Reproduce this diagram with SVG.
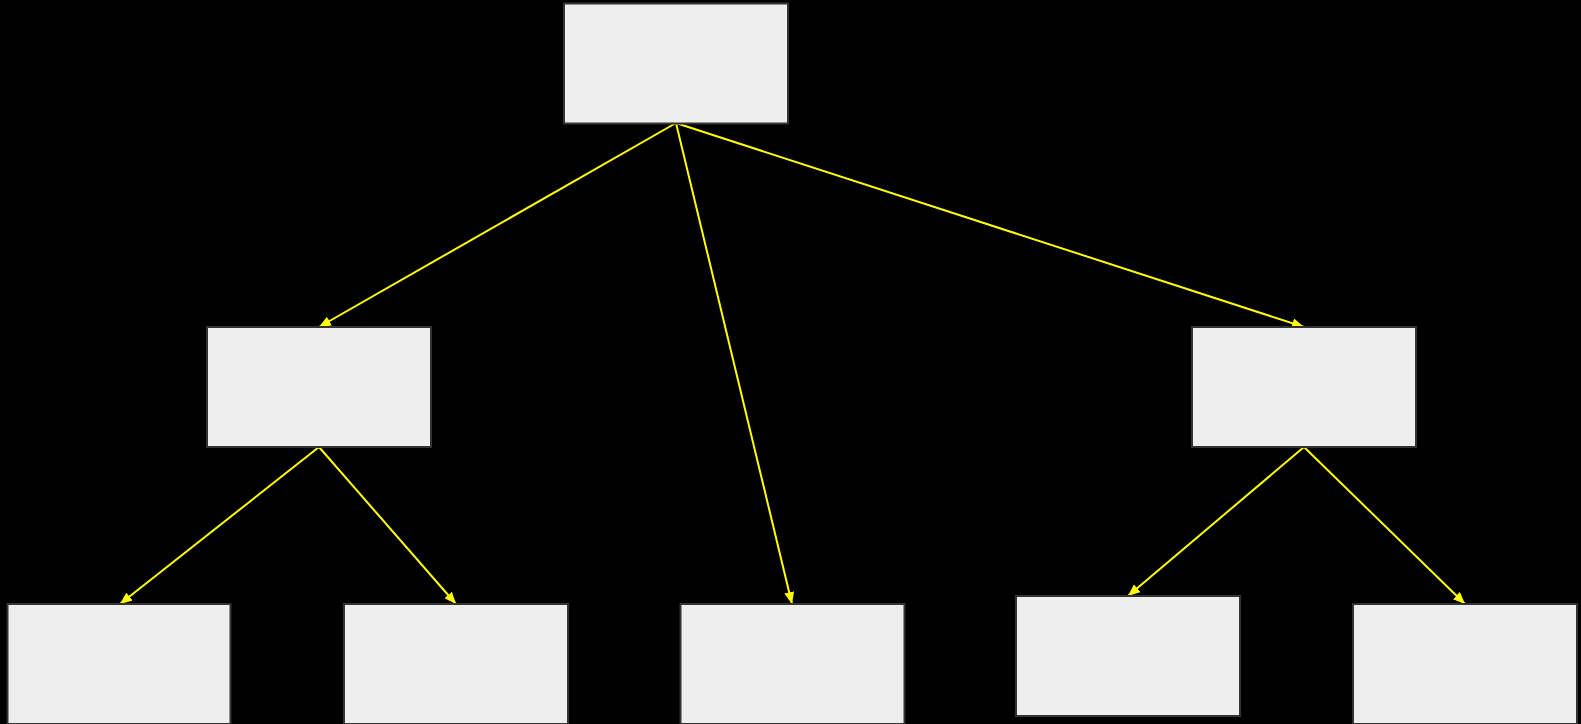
<svg xmlns="http://www.w3.org/2000/svg" width="1581" height="724" viewBox="0 0 1581 724">
<style>
.node rect{fill:#eeeeee;stroke:#333333;stroke-width:2}
.edge{stroke:#ffff00;stroke-width:2;fill:none;marker-end:url(#arr)}
</style>
<defs>
<marker id="arr" markerUnits="userSpaceOnUse" markerWidth="12" markerHeight="10" refX="12" refY="5" orient="auto">
<path d="M0,0 L12,5 L0,10 z" fill="#ffff00"/>
</marker>
</defs>
<rect width="1581" height="724" fill="#000000"/>
<g id="connectors">
<line class="edge" x1="676" y1="123" x2="319" y2="327"/>
<line class="edge" x1="676" y1="123" x2="792" y2="604"/>
<line class="edge" x1="676" y1="123" x2="1304" y2="327"/>
<line class="edge" x1="319" y1="447" x2="120" y2="604"/>
<line class="edge" x1="319" y1="447" x2="456" y2="604"/>
<line class="edge" x1="1304" y1="447" x2="1128" y2="596"/>
<line class="edge" x1="1304" y1="447" x2="1465" y2="604"/>
</g>
<g id="n1" class="node"><rect x="564" y="3.5" width="224" height="120"/></g>
<g id="n2" class="node"><rect x="207" y="327" width="224" height="120"/></g>
<g id="n3" class="node"><rect x="1192" y="327" width="224" height="120"/></g>
<g id="n4" class="node"><rect x="7.5" y="604" width="223" height="120"/></g>
<g id="n5" class="node"><rect x="344" y="604" width="224" height="120"/></g>
<g id="n6" class="node"><rect x="680.5" y="604" width="224" height="120"/></g>
<g id="n7" class="node"><rect x="1016" y="596" width="224" height="120"/></g>
<g id="n8" class="node"><rect x="1353" y="604" width="224" height="120"/></g>
</svg>
